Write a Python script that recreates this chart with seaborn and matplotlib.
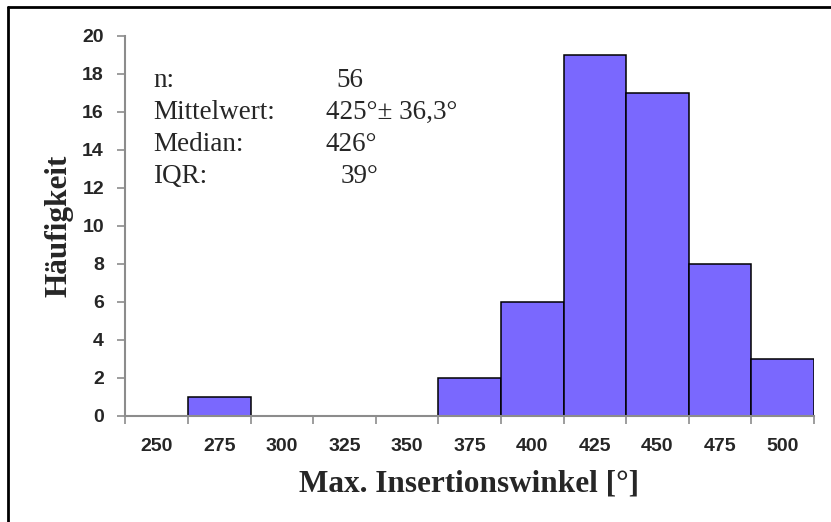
import matplotlib
matplotlib.use("Agg")
import matplotlib.pyplot as plt
from matplotlib.lines import Line2D
import numpy as np
import pandas as pd
import seaborn as sns

# histogram classes and counts
bins = ["250", "275", "300", "325", "350", "375", "400", "425", "450", "475", "500"]
counts = [0, 1, 0, 0, 0, 2, 6, 19, 17, 8, 3]

stat_labels = ["n:", "Mittelwert:", "Median:", "IQR:"]
stat_values = ["56", "425°± 36,3°", "426°", "39°"]
stat_value_x = [0.306, 0.291, 0.291, 0.312]

bar_color = "#7A68FE"
axis_gray = "#8C8C8C"

sns.set_style("white")
df = pd.DataFrame({"winkel": bins, "anzahl": counts})

fig = plt.figure(figsize=(8.31, 5.22), dpi=100)
ax = fig.add_axes([0.1510, 0.2031, 0.8285, 0.7280])

sns.barplot(data=df, x="winkel", y="anzahl", color=bar_color, width=1.0,
            edgecolor="black", linewidth=1.1, saturation=1, ax=ax)

ax.set_xlim(-0.5, len(bins) - 0.5)
ax.set_ylim(0, 20)
ax.set_yticks(np.arange(0, 21, 2))

# category labels centred, tick marks at class boundaries
ax.set_xticks(np.arange(len(bins)))
ax.set_xticklabels(bins)
ax.set_xticks(np.arange(len(bins) + 1) - 0.5, minor=True)
ax.tick_params(axis="x", which="major", length=0, pad=16)
ax.tick_params(axis="x", which="minor", length=6, width=1.2, color=axis_gray, direction="out")
ax.tick_params(axis="y", length=6, width=1.2, color=axis_gray, direction="out", pad=9.5)
ax.xaxis.set_ticks_position("bottom")
ax.yaxis.set_ticks_position("left")

for lab in ax.get_xticklabels() + ax.get_yticklabels():
    lab.set_fontfamily("Liberation Sans")
    lab.set_fontweight("bold")
    lab.set_fontsize(14)

for side in ["top", "right"]:
    ax.spines[side].set_visible(False)
for side in ["left", "bottom"]:
    ax.spines[side].set_color(axis_gray)
    ax.spines[side].set_linewidth(1.5)

ax.set_xlabel("Max. Insertionswinkel [°]", fontfamily="Liberation Serif",
              fontweight="bold", fontsize=22.5, va="baseline")
ax.xaxis.set_label_coords(0.499, -0.2)
ax.set_ylabel("Häufigkeit", fontfamily="Liberation Serif",
              fontweight="bold", fontsize=22.5, va="center")
ax.yaxis.set_label_coords(-0.097, 0.5)

# statistics block
for i, (lab, val) in enumerate(zip(stat_labels, stat_values)):
    y = 0.866 - i * 0.0842
    ax.text(0.040, y, lab, transform=ax.transAxes, fontfamily="Liberation Serif",
            fontsize=19.5, va="baseline", ha="left")
    ax.text(stat_value_x[i], y, val, transform=ax.transAxes, fontfamily="Liberation Serif",
            fontsize=19.5, va="baseline", ha="left")

# outer frame (top and left visible)
fig.add_artist(Line2D([0.0096, 1.0], [0.9866, 0.9866], transform=fig.transFigure,
                      color="black", linewidth=2))
fig.add_artist(Line2D([0.0096, 0.0096], [0.0, 0.9866], transform=fig.transFigure,
                      color="black", linewidth=2))

fig.savefig("out.png", dpi=100)
